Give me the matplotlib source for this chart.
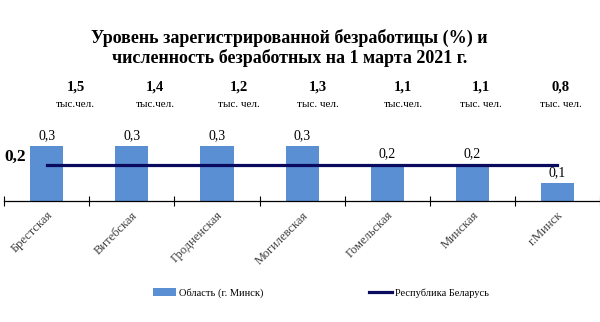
import matplotlib
matplotlib.use("Agg")
import matplotlib.pyplot as plt
import numpy as np

plt.rcParams['font.family'] = ['Liberation Serif', 'DejaVu Serif']

regions = ['Брестская', 'Витебская', 'Гродненская', 'Могилевская',
           'Гомельская', 'Минская', 'г.Минск']
rate = [0.3, 0.3, 0.3, 0.3, 0.2, 0.2, 0.1]
republic = 0.2
unemployed = ['1,5', '1,4', '1,2', '1,3', '1,1', '1,1', '0,8']
unit_labels = ['тыс.чел.', 'тыс.чел.', 'тыс. чел.', 'тыс. чел.',
               'тыс.чел.', 'тыс. чел.', 'тыс. чел.']

bar_color = '#5A8FD4'
line_color = '#0A0A5E'

fig = plt.figure(figsize=(6, 3.22), dpi=100)
ax = fig.add_axes([0.007, 0.376, 0.993, 0.31])

x = np.arange(len(regions))
bars = ax.bar(x, rate, width=0.39, color=bar_color, zorder=2)
line, = ax.plot([x[0], x[-1]], [republic, republic], color=line_color, lw=2.3,
                zorder=3)

for xi, v in zip(x, rate):
    ax.text(xi, v + 0.022, f'{v:.1f}'.replace('.', ','), ha='center', va='bottom',
            fontsize=10)

# counts of unemployed above the bars
offsets = [0.34, 0.27, 0.26, 0.18, 0.19, 0.1, 0.04]
for xi, n, u, off in zip(x, unemployed, unit_labels, offsets):
    ax.text(xi + off, 0.625, n, ha='center', va='center', fontsize=10.5,
            fontweight='bold', clip_on=False)
    ax.text(xi + off, 0.53, u, ha='center', va='center', fontsize=8,
            clip_on=False)

ax.text(-0.5, 0.245, f'{republic:.1f}'.replace('.', ','), ha='left', va='center',
        fontsize=12.5, fontweight='bold')

ax.set_xlim(-0.5, len(regions) - 0.5)
ax.set_ylim(0, 0.55)
ax.set_xticks(x)
ax.set_xticklabels(regions, rotation=45, ha='right', rotation_mode='anchor',
                   fontsize=9, color='#404040')
ax.tick_params(axis='x', which='major', length=0, pad=6)
ax.set_xticks(np.arange(-0.5, len(regions), 1), minor=True)
ax.tick_params(axis='x', which='minor', direction='inout', length=7, width=0.8)
ax.set_yticks([])
for s in ['left', 'top', 'right']:
    ax.spines[s].set_visible(False)
ax.spines['bottom'].set_linewidth(0.9)

fig.text(0.482, 0.85, 'Уровень зарегистрированной безработицы (%) и\n'
         'численность безработных на 1 марта 2021 г.', ha='center', va='center',
         fontsize=13, fontweight='bold', linespacing=1.15)

fig.legend([bars, line], ['Область (г. Минск)', 'Республика Беларусь'],
           loc='center', bbox_to_anchor=(0.535, 0.09), ncol=2, frameon=False,
           fontsize=7.5, columnspacing=10.1, handlelength=2.2, handletextpad=0.3)

fig.savefig('out.png', dpi=100)
